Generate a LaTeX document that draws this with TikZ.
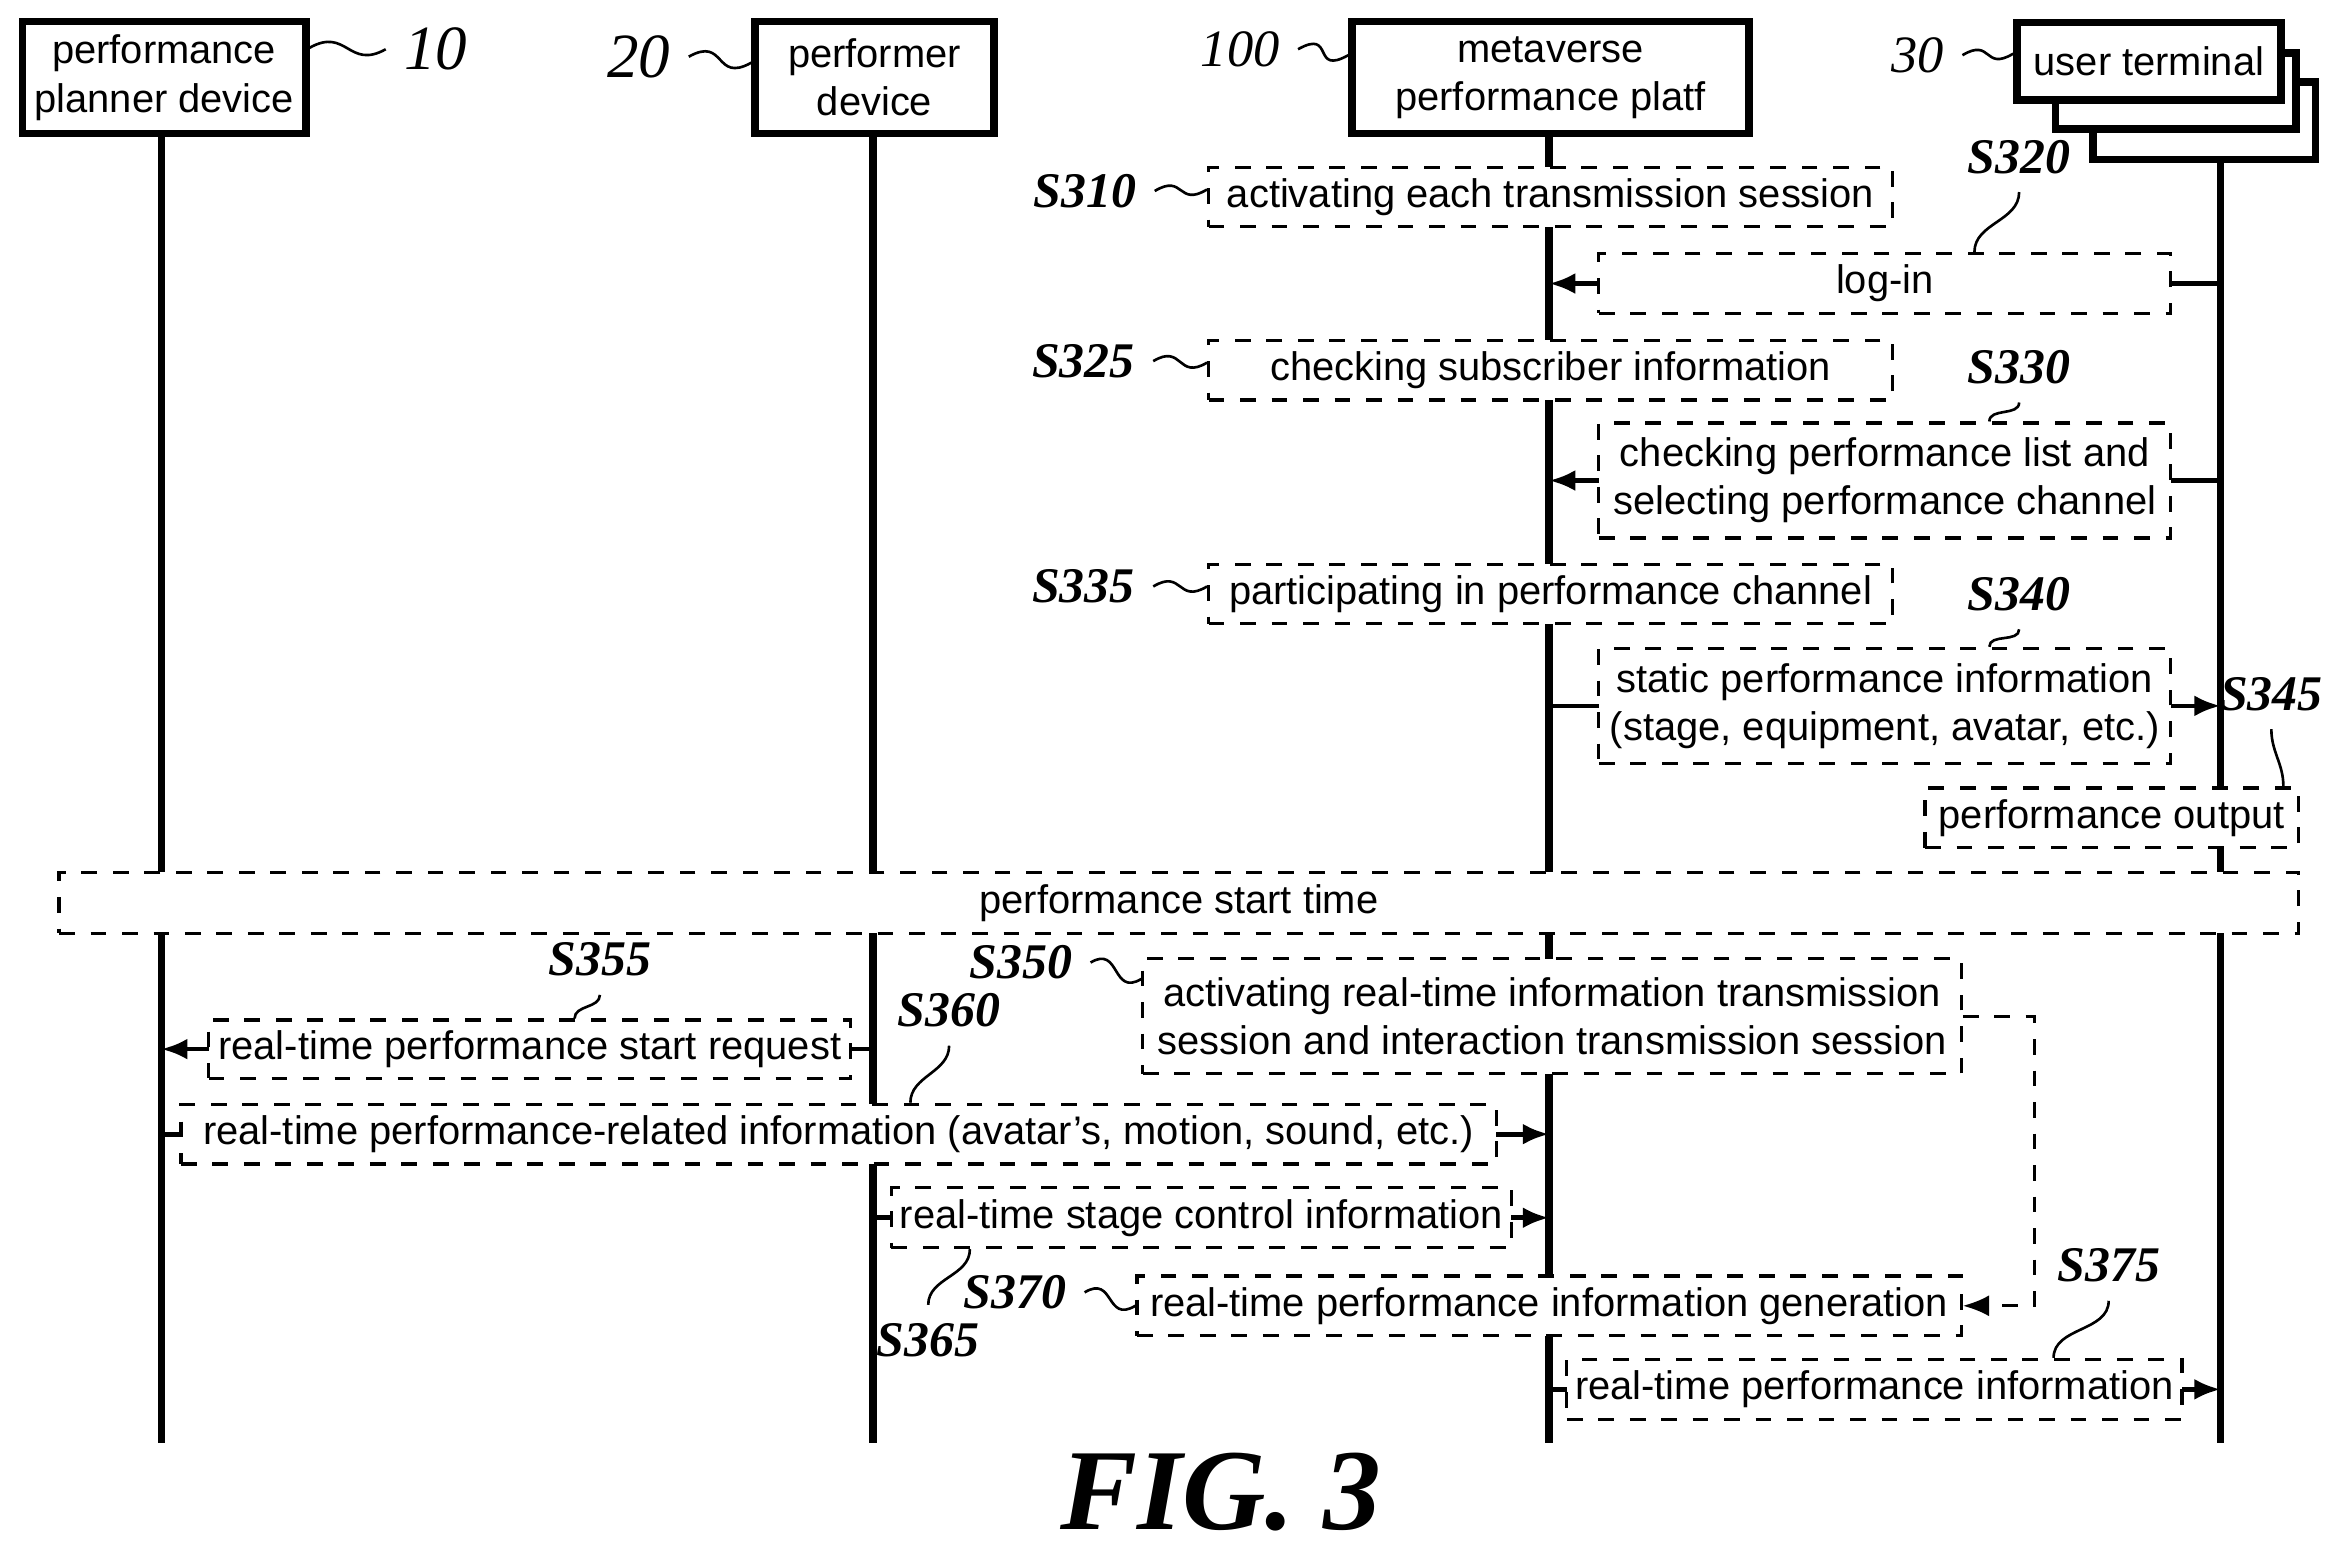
\documentclass[tikz,border=0pt]{standalone}
\usepackage{fontspec}
\setmainfont{Liberation Sans}
\newfontfamily\labfont{Liberation Serif}
\usetikzlibrary{arrows.meta,backgrounds}
\tikzset{>={Latex[length=5pt,width=4pt]}}
\tikzstyle{head}=[draw,line width=1.4pt,fill=white,align=center,inner sep=1pt,font=\fontsize{7.6}{9.2}\selectfont]
\tikzstyle{stepbox}=[draw,dashed,line width=0.6pt,fill=white,align=center,inner sep=1pt,font=\fontsize{7.6}{9.2}\selectfont]
\tikzstyle{msg}=[->,line width=0.9pt]
\tikzstyle{tag}=[font=\labfont\itshape\bfseries\fontsize{9.5}{10}\selectfont]
\tikzstyle{squig}=[line width=0.5pt]

\begin{document}
\begin{tikzpicture}[x=0.01cm,y=-0.01cm]
            \useasboundingbox (0,0) rectangle (1568,1040);
            % actors
            \node[head,minimum width=1.9cm,minimum height=0.75cm] (planner) at (110,52) {performance\\planner device};
            \node[head,minimum width=1.6cm,minimum height=0.75cm] (performer) at (586,52) {performer\\device};
            \node[head,minimum width=2.66cm,minimum height=0.75cm] (platform) at (1039,52) {metaverse\\performance platf};
            \node[head,minimum width=1.49cm,minimum height=0.52cm] (term3) at (1477,81) {};
            \node[head,minimum width=1.61cm,minimum height=0.51cm] (term2) at (1458,61) {};
            \node[head,minimum width=1.77cm,minimum height=0.52cm] (term) at (1440,41) {user terminal};
            \node[tag,font=\labfont\itshape\fontsize{12}{12}\selectfont] (n10) at (292,33) {10};
            \node[tag,font=\labfont\itshape\fontsize{12}{12}\selectfont] (n20) at (428,38) {20};
            \node[tag,font=\labfont\itshape\fontsize{10}{12}\selectfont] (n100) at (831,33) {100};
            \node[tag,font=\labfont\itshape\fontsize{10}{12}\selectfont] (n30) at (1285,37) {30};
            \draw[squig] ([yshift=0.2cm]planner.east) .. controls +(25,-14) and +(-25,14) .. (n10.west);
            \draw[squig] (n20.east) .. controls +(25,-14) and +(-25,14) .. ([yshift=0.1cm]performer.west);
            \draw[squig] (n100.east) .. controls +(25,-14) and +(-25,14) .. ([yshift=0.15cm]platform.west);
            \draw[squig] (n30.east) .. controls +(20,-12) and +(-20,12) .. ([yshift=0.05cm]term.west);
            % lifelines
            \coordinate (pl0) at (108,90);   \coordinate (pl1) at (108,967);
            \coordinate (pf0) at (585,90);   \coordinate (pf1) at (585,967);
            \coordinate (mp0) at (1038,90);  \coordinate (mp1) at (1038,967);
            \coordinate (ut0) at (1488,107); \coordinate (ut1) at (1488,967);
            \begin{scope}[on background layer]
                \foreach \a/\b in {pl0/pl1,pf0/pf1,mp0/mp1,ut0/ut1}
                    \draw[line width=1.4pt] (\a)--(\b);
            \end{scope}
            % steps
            \node[stepbox,minimum width=4.58cm,minimum height=0.4cm] (s310) at (1039,132) {activating each transmission session};
            \node[stepbox,minimum width=3.83cm,minimum height=0.4cm] (s320) at (1263,190) {log-in};
            \node[stepbox,minimum width=4.58cm,minimum height=0.4cm] (s325) at (1039,248) {checking subscriber information};
            \node[stepbox,minimum width=3.83cm,minimum height=0.77cm] (s330) at (1263,322) {checking performance list and\\selecting performance channel};
            \node[stepbox,minimum width=4.58cm,minimum height=0.4cm] (s335) at (1039,398) {participating in performance channel};
            \node[stepbox,minimum width=3.83cm,minimum height=0.77cm] (s340) at (1263,473) {static performance information\\(stage, equipment, avatar, etc.)};
            \node[stepbox,minimum width=2.5cm,minimum height=0.4cm] (s345) at (1415,548) {performance output};
            \node[stepbox,minimum width=15cm,minimum height=0.41cm] (start) at (790,605) {performance start time};
            \node[stepbox,minimum width=5.48cm,minimum height=0.77cm] (s350) at (1040,681) {activating real-time information transmission\\session and interaction transmission session};
            \node[stepbox,minimum width=4.3cm,minimum height=0.39cm] (s355) at (355,703) {real-time performance start request};
            \node[stepbox,minimum width=8.81cm,minimum height=0.4cm] (s360) at (562,760) {real-time performance-related information (avatar's, motion, sound, etc.)};
            \node[stepbox,minimum width=4.15cm,minimum height=0.4cm] (s365) at (805,816) {real-time stage control information};
            \node[stepbox,minimum width=5.52cm,minimum height=0.4cm] (s370) at (1038,875) {real-time performance information generation};
            \node[stepbox,minimum width=4.12cm,minimum height=0.4cm] (s375) at (1256,931) {real-time performance information};
            % messages
            \begin{scope}[on background layer]
                \draw[msg] (1488,190) -- (1038,190);
                \draw[msg] (1488,322) -- (1038,322);
                \draw[msg] (1038,473) -- (1488,473);
                \draw[msg] (585,703) -- (108,703);
                \draw[msg] (108,760) -- (1038,760);
                \draw[msg] (585,816) -- (1038,816);
                \draw[msg] (1038,931) -- (1488,931);
            \end{scope}
            \draw[->,dashed,line width=0.6pt] (s350.east) -- ++(48,0) |- (s370.east);
            % step labels
            \node[tag] (t310) at (727,128) {S310};
            \node[tag] (t320) at (1353,105) {S320};
            \node[tag] (t325) at (726,242) {S325};
            \node[tag] (t330) at (1353,246) {S330};
            \node[tag] (t335) at (726,393) {S335};
            \node[tag] (t340) at (1353,398) {S340};
            \node[tag] (t345) at (1522,465) {S345};
            \node[tag] (t350) at (684,645) {S350};
            \node[tag] (t355) at (402,643) {S355};
            \node[tag] (t360) at (636,677) {S360};
            \node[tag] (t365) at (622,898) {S365};
            \node[tag] (t370) at (680,866) {S370};
            \node[tag] (t375) at (1413,848) {S375};
            \draw[squig] (t310.east) .. controls +(20,-12) and +(-20,12) .. ([yshift=0.05cm]s310.west);
            \draw[squig] (t320.south) to[out=-90,in=90] ([xshift=0.6cm]s320.north);
            \draw[squig] (t325.east) .. controls +(20,-12) and +(-20,12) .. ([yshift=0.05cm]s325.west);
            \draw[squig] (t330.south) to[out=-90,in=90] ([xshift=0.7cm]s330.north);
            \draw[squig] (t335.east) .. controls +(20,-12) and +(-20,12) .. ([yshift=0.05cm]s335.west);
            \draw[squig] (t340.south) to[out=-90,in=90] ([xshift=0.7cm]s340.north);
            \draw[squig] (t345.south) to[out=-90,in=90] ([xshift=1.15cm]s345.north);
            \draw[squig] (t350.east) .. controls +(20,-12) and +(-20,12) .. ([yshift=0.25cm]s350.west);
            \draw[squig] (t355.south) to[out=-90,in=90] ([xshift=0.3cm]s355.north);
            \draw[squig] (t360.south) to[out=-90,in=90] ([xshift=0.48cm]s360.north);
            \draw[squig] (t365.north) to[out=90,in=-90] ([xshift=-1.55cm]s365.south);
            \draw[squig] (t370.east) .. controls +(20,-12) and +(-20,12) .. (s370.west);
            \draw[squig] (t375.south) to[out=-90,in=90] ([xshift=1.2cm]s375.north);
            % figure caption
            \node[font=\labfont\itshape\bfseries\fontsize{22}{24}\selectfont] (fig) at (818,1000) {FIG. 3};
        \end{tikzpicture}
\end{document}
